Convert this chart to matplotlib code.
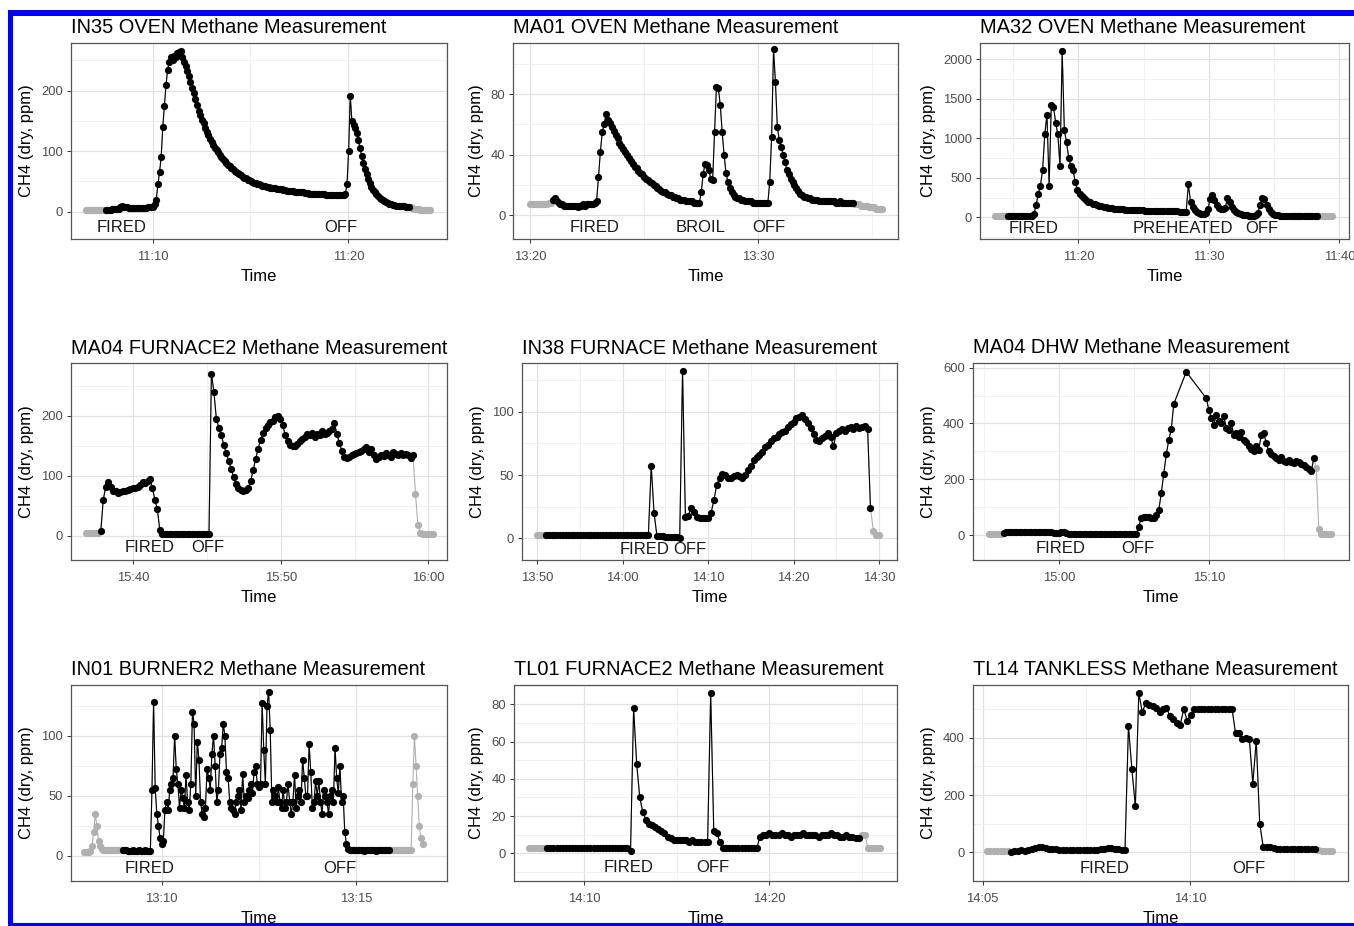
import numpy as np
import matplotlib
matplotlib.use("Agg")
import matplotlib.pyplot as plt
from matplotlib.patches import Rectangle

plt.rcParams['font.family'] = ['Liberation Sans', 'DejaVu Sans']

NAN = float('nan')
Y_LABEL = "CH4 (dry, ppm)"
X_LABEL = "Time"

# ------------------------------------------------------------------
# Data (times are minutes after midnight, sampled every STEP seconds)
# ------------------------------------------------------------------
IN35_TITLE = "IN35 OVEN Methane Measurement"
IN35_START = 666.6
IN35_STEP = 5
IN35_WINDOW = (667.55, 683.15)
IN35_CH4 = [3, 3, 3, 3, 3, 3, 3, 3, 3, 3, 3, 3,
            3, 3, 3, 3, 4, 4, 4, 5, 5, 8, 9, 8,
            7, 7, 6, 6, 6, 6, 6, 6, 6, 6, 6, 6,
            6, 6, 7, 7, 7, 8, 12, 20, 45, 65, 90, 140,
            175, 210, 235, 248, 255, 250, 258, 255, 262, 264, 265, 255,
            248, 240, 232, 224, 215, 205, 196, 186, 176, 167, 159, 152,
            146, 139, 132, 126, 120, 115, 110, 106, 102, 98, 94, 90,
            87, 83, 80, 78, 75, 72, 70, 68, 66, 64, 62, 60,
            58, 56, 55, 53, 52, 50, 49, 48, 47, 46, 45, 44,
            43, 43, 42, 41, 41, 40, 40, 39, 39, 38, 38, 37,
            37, 36, 36, 35, 35, 34, 34, 34, 33, 33, 33, 32,
            32, 32, 31, 31, 31, 30, 30, 30, 30, 29, 29, 29,
            29, 29, 29, 28, 28, 28, 28, 28, 28, 27, 27, 27,
            27, 27, 28, 30, 45, 100, 192, 150, 143, 138, 130, 118,
            105, 92, 80, 70, 62, 54, 47, 41, 36, 32, 29, 26,
            23, 21, 19, 17, 16, 14, 13, 12, 11, 11, 10, 10,
            9, 9, 9, 9, 8, 8, 8, 7, 6, 5, 5, 4,
            4, 3, 3, 3, 3, 3, 3, 3]
IN35_XTICKS = ["11:10", "11:20"]
IN35_YTICKS = [0, 100, 200]
IN35_EVENTS = ["FIRED", "OFF"]
IN35_EVENT_T = [668.42, 679.6]

MA01_TITLE = "MA01 OVEN Methane Measurement"
MA01_START = 800.0
MA01_STEP = 5
MA01_WINDOW = (800.95, 814.2)
MA01_CH4 = [7, 7, 7, 7, 7, 7, 7, 7, 7, 7, 8, 8,
            10, 11, 9, 8, 7, 7, 6, 6, 6, 6, 6, 6,
            6, 5, 6, 6, 7, 6, 7, 7, 7, 7, 8, 9,
            25, 42, 55, 60, 67, 63, 61, 58, 56, 53, 51, 48,
            46, 44, 42, 40, 38, 36, 34, 32, 31, 29, 28, 27,
            25, 24, 23, 22, 21, 20, 19, 18, 17, 16, 15, 15,
            14, 13, 13, 12, 12, 11, 11, 10, 10, 10, 9, 9,
            9, 9, 8, 8, 8, 8, 15, 27, 34, 33, 30, 24,
            23, 55, 85, 84, 73, 55, 40, 28, 22, 18, 15, 13,
            12, 11, 11, 10, 10, 9, 9, 9, 9, 8, 8, 8,
            8, 8, 8, 8, 8, 8, 22, 52, 110, 88, 58, 50,
            45, 40, 35, 30, 27, 24, 22, 20, 18, 16, 14, 13,
            12, 12, 11, 11, 10, 10, 10, 10, 9, 9, 9, 9,
            9, 9, 9, 9, 9, 8, 8, 9, 8, 8, 8, 8,
            8, 8, 8, 7, 7, 7, 6, 6, 6, 6, 5, 5,
            5, 5, 4, 4, 4, 4]
MA01_XTICKS = ["13:20", "13:30"]
MA01_YTICKS = [0, 40, 80]
MA01_EVENTS = ["FIRED", "BROIL", "OFF"]
MA01_EVENT_T = [802.85, 807.48, 810.48]

MA32_TITLE = "MA32 OVEN Methane Measurement"
MA32_START = 673.6
MA32_STEP = 10
MA32_WINDOW = (674.55, 698.3)
MA32_CH4 = [15, 15, 15, 15, 15, 15,
            15, 15, 15, 15, 15, 15, 15, 15, 15, 15, 15, 15,
            40, 150, 300, 400, 600, 1050, 1300, 400, 1420, 1400,
            1200, 1050, 650, 2100, 1100, 950, 750, 650, 600, 450,
            350, 300, 270, 240, 220, 200, 190, 175, 165, 155,
            148, 140, 135, 128, 122, 118, 114, 110, 108,
            105, 103, 100, 98, 96, 94, 92, 91, 90, 89,
            88, 87, 86, 85, 84, 83, 82, 81, 80, 79, 78, 78, 77, 76, 76, 75,
            74, 74, 73, 72, 72, 71,
            420, 200, 130, 90, 70, 55, 45, 40, 50, 100,
            230, 280, 220, 160, 120, 105, 100, 120, 250, 190,
            130, 90, 65, 50, 40, 32, 28, 25, 23, 22,
            22, 25, 60, 160, 250, 230, 160, 110, 70, 45, 32, 24, 20,
            18, 17, 16, 16, 15, 15, 15, 15, 15, 15, 15, 15, 15, 15, 15, 15, 15,
            15, 15, 15, 15, 15, 15, 15]
MA32_XTICKS = ["11:20", "11:30", "11:40"]
MA32_YTICKS = [0, 500, 1000, 1500, 2000]
MA32_EVENTS = ["FIRED", "PREHEATED", "OFF"]
MA32_EVENT_T = [676.55, 687.98, 694.05]

MA04F_TITLE = "MA04 FURNACE2 Methane Measurement"
MA04F_START = 936.8
MA04F_STEP = 10
MA04F_WINDOW = (937.75, 959.0)
MA04F_CH4 = [5, 5, 5, 5, 5, 5,
             8, 60, 82, 90, 82, 75, 74, 72, 73, 74,
             75, 76, 78, 80, 80, 82, 84, 90, 88, 92,
             95, 80, 60, 45, 10, 4,
             3, 3, 3, 3, 3, 3, 3, 3, 3, 3, 3, 3, 3, 3, 3, 3, 3, 3, 3,
             270, 240, 195, 180, 168, 152, 138, 125, 112, 98,
             86, 80, 76, 75, 76, 80, 92, 110, 128, 145,
             160, 172, 180, 185, 190, 192, 198, 200, 195, 185,
             168, 158, 152, 150, 150, 153, 158, 162, 165, 170,
             168, 172, 165, 170, 168, 175, 170, 172, 175, 178,
             188, 170, 155, 142, 132, 130, 132, 135, 136, 138,
             140, 142, 145, 148, 140, 145, 135, 128, 132, 135,
             133, 138, 135, 132, 140, 136, 135, 138, 134, 136, 135, 130, 135,
             70, 18, 5, 4, 4, 4, 4, 4]
MA04F_XTICKS = ["15:40", "15:50", "16:00"]
MA04F_YTICKS = [0, 100, 200]
MA04F_EVENTS = ["FIRED", "OFF"]
MA04F_EVENT_T = [941.13, 945.08]

IN38_TITLE = "IN38 FURNACE Methane Measurement"
IN38_START = 830.0
IN38_STEP = 20
IN38_WINDOW = (830.95, 869.05)
IN38_CH4 = [3, 3, 3,
            3, 3, 3, 3, 3, 3, 3, 3, 3, 3, 3, 3, 3, 3, 3, 3, 3, 3, 3,
            3, 3, 3, 3, 3, 3, 3, 3, 3, 3, 3, 3, 3, 3, 3, 3, 3, 3,
            57, 20, 2, 2, 2, 1, 1, 1, 1, 1,
            0, 132, 17, 18, 24, 21, 17, 16, 16, 16,
            16, 20, 30, 42, 48, 51, 50, 48, 48, 49,
            50, 49, 48, 50, 54, 57, 62, 64, 66, 68,
            72, 74, 77, 79, 80, 82, 84, 85, 88, 90,
            92, 95, 96, 97, 94, 91, 87, 82, 78, 77,
            79, 81, 83, 80, 73, 83, 85, 86, 85, 87,
            88, 86, 89, 87, 88, 89, 86,
            24, 6, 3, 3]
IN38_XTICKS = ["13:50", "14:00", "14:10", "14:20", "14:30"]
IN38_YTICKS = [0, 50, 100]
IN38_EVENTS = ["FIRED", "OFF"]
IN38_EVENT_T = [842.51, 847.82]

MA04D_TITLE = "MA04 DHW Methane Measurement"
MA04D_START = 895.3
MA04D_STEP = 10
MA04D_WINDOW = (896.25, 917.0)
MA04D_CH4 = [5, 5, 5, 5, 5, 5,
             8,
             10, 11, 10, 10, 11, 10, 10, 11, 10, 10, 10, 11, 10, 10, 10, 11, 10, 10, 12,
             8, 7, 8, 10, 9, 6,
             5, 5, 5, 5, 5, 5, 5, 5, 5, 5, 5, 5, 5, 5, 5, 5, 5, 5, 5, 5,
             5, 5, 5, 5, 5, 5, 5, 5,
             30, 62, 63, 65, 64, 62, 62, 70, 90, 150, 220, 290, 340, 380, 470,
             NAN, NAN, NAN, NAN,
             585,
             NAN, NAN, NAN, NAN, NAN, NAN, NAN,
             490, 450, 420, 395, 430, 410, 400, 425, 385, 375,
             400, 360, 365, 350, 370, 340, 335, 320, 310, 300,
             320, 305, 360, 365, 330, 300, 290, 285, 275, 270,
             280, 265, 260, 270, 262, 258, 265, 260, 255, 250, 245, 235, 230, 275,
             240, 20, 5, 5, 5, 5, 5]
MA04D_XTICKS = ["15:00", "15:10"]
MA04D_YTICKS = [0, 200, 400, 600]
MA04D_EVENTS = ["FIRED", "OFF"]
MA04D_EVENT_T = [900.1, 905.23]

IN01_TITLE = "IN01 BURNER2 Methane Measurement"
IN01_START = 788.0
IN01_STEP = 2.5
IN01_WINDOW = (788.98, 795.85)
IN01_CH4 = [3, 3, 3, 3, 4, 8, 20, 35, 25, 12, 8, 6,
            5, 5, 5, 5, 5, 5, 5, 5, 5, 5, 5, 5,
            5, 5, 5, 4, 4, 4, 5, 4, 4, 4, 5, 4,
            4, 4, 5, 4, 4, 4, 55, 128, 56, 35, 25, 15,
            10, 12, 38, 45, 38, 55, 60, 65, 100, 72, 60, 40,
            55, 48, 40, 67, 45, 38, 60, 120, 110, 50, 95, 80,
            45, 35, 32, 40, 72, 65, 55, 85, 100, 75, 45, 55,
            85, 90, 110, 100, 70, 65, 45, 40, 38, 35, 45, 50,
            55, 38, 68, 45, 50, 48, 55, 60, 52, 70, 75, 60,
            57, 60, 127, 88, 60, 125, 136, 105, 45, 55, 50, 45,
            57, 45, 40, 55, 40, 45, 60, 45, 35, 45, 67, 40,
            50, 55, 45, 80, 65, 50, 50, 93, 70, 40, 45, 62,
            50, 62, 45, 35, 55, 50, 45, 35, 50, 55, 45, 90,
            65, 52, 75, 45, 50, 20, 10, 6, 5, 5, 5, 5,
            5, 5, 5, 5, 5, 4, 5, 5, 5, 5, 5, 5,
            4, 5, 5, 5, 5, 5, 5, 5, 5, 5, 5, 5,
            5, 5, 5, 5, 5, 5, 5, 5, 5, 5, 5, 60,
            100, 75, 50, 25, 15, 10]
IN01_XTICKS = ["13:10", "13:15"]
IN01_YTICKS = [0, 50, 100]
IN01_EVENTS = ["FIRED", "OFF"]
IN01_EVENT_T = [789.7, 794.58]

TL01_TITLE = "TL01 FURNACE2 Methane Measurement"
TL01_START = 847.0
TL01_STEP = 10
TL01_WINDOW = (847.95, 864.9)
TL01_CH4 = [3, 3, 3, 3, 3, 3,
            3, 3, 3, 3, 3, 3, 3, 3, 3, 3, 3, 3, 3, 3, 3, 3, 3, 3, 3, 3, 3, 3,
            3, 3, 3, 3, 3,
            1, 78, 48, 30, 22, 18, 16, 15, 14, 13, 12, 11, 9, 8, 7,
            7, 7, 7, 7, 6, 7, 6, 6, 6, 6, 6,
            86, 12, 11, 6, 3,
            3, 3, 3, 3, 3, 3, 3, 3, 3, 3, 3,
            9, 10,
            10, 11, 10, 10, 10, 11, 10, 10, 9, 10, 10, 10, 11, 10, 10, 10,
            10, 9, 10, 10, 10, 11, 10, 10, 9, 9, 10, 9, 9, 8, 8,
            10, 10, 3, 3, 3, 3, 3]
TL01_XTICKS = ["14:10", "14:20"]
TL01_YTICKS = [0, 20, 40, 60, 80]
TL01_EVENTS = ["FIRED", "OFF"]
TL01_EVENT_T = [852.38, 856.93]

TL14_TITLE = "TL14 TANKLESS Methane Measurement"
TL14_START = 845.1
TL14_STEP = 5
TL14_WINDOW = (845.65, 853.05)
TL14_CH4 = [3, 3, 3, 3, 3, 3, 3,
            0, 5, 6, 8, 5, 8, 12, 15, 18, 18, 15, 12, 11, 10,
            8, 8, 8, 8, 8, 8, 8, 8, 8, 8, 8, 8,
            10, 12, 15, 15, 12, 10, 8, 8,
            440, 290, 160, 555, 490, 520, 515, 510, 505, 490,
            500, 505, 475, 465, 450, 445, 500, 460, 480,
            500, 500, 500, 500, 500, 500, 500, 500, 500, 500, 500, 500,
            415, 415, 395, 400, 395, 240, 390, 100, 20, 20, 18, 15,
            12, 12, 12, 12, 12, 12, 12, 12, 12, 12, 12, 12,
            8, 6, 5, 5, 5]
TL14_XTICKS = ["14:05", "14:10"]
TL14_YTICKS = [0, 200, 400]
TL14_EVENTS = ["FIRED", "OFF"]
TL14_EVENT_T = [847.95, 851.43]

# ------------------------------------------------------------------
# Layout (pixel boxes of the panels, axis ranges, label heights)
# ------------------------------------------------------------------
W, H = 1354, 926
PANELS = [
    dict(title=IN35_TITLE, start=IN35_START, step=IN35_STEP, win=IN35_WINDOW, ch4=IN35_CH4,
         xt=IN35_XTICKS, xminor=5, yt=IN35_YTICKS, ev=IN35_EVENTS, evt=IN35_EVENT_T,
         box=(70.7, 42.7, 446.7, 239.3), xlim=(665.81, 685.03), ylim=(-45.6, 279.3), evy=-26),
    dict(title=MA01_TITLE, start=MA01_START, step=MA01_STEP, win=MA01_WINDOW, ch4=MA01_CH4,
         xt=MA01_XTICKS, xminor=5, yt=MA01_YTICKS, ev=MA01_EVENTS, evt=MA01_EVENT_T,
         box=(513.3, 42.7, 898.3, 239.3), xlim=(799.27, 816.13), ylim=(-16.1, 114.2), evy=-8.2),
    dict(title=MA32_TITLE, start=MA32_START, step=MA32_STEP, win=MA32_WINDOW, ch4=MA32_CH4,
         xt=MA32_XTICKS, xminor=5, yt=MA32_YTICKS, ev=MA32_EVENTS, evt=MA32_EVENT_T,
         box=(980.0, 42.7, 1348.7, 239.3), xlim=(672.47, 700.72), ylim=(-278, 2210), evy=-139),
    dict(title=MA04F_TITLE, start=MA04F_START, step=MA04F_STEP, win=MA04F_WINDOW, ch4=MA04F_CH4,
         xt=MA04F_XTICKS, xminor=5, yt=MA04F_YTICKS, ev=MA04F_EVENTS, evt=MA04F_EVENT_T,
         box=(70.7, 363.3, 446.7, 560.0), xlim=(935.76, 961.25), ylim=(-39.9, 287.1), evy=-19.4),
    dict(title=IN38_TITLE, start=IN38_START, step=IN38_STEP, win=IN38_WINDOW, ch4=IN38_CH4,
         xt=IN38_XTICKS, xminor=5, yt=IN38_YTICKS, ev=IN38_EVENTS, evt=IN38_EVENT_T,
         box=(521.7, 363.3, 897.3, 560.0), xlim=(828.17, 872.14), ylim=(-17.1, 138.2), evy=-8.7),
    dict(title=MA04D_TITLE, start=MA04D_START, step=MA04D_STEP, win=MA04D_WINDOW, ch4=MA04D_CH4,
         xt=MA04D_XTICKS, xminor=5, yt=MA04D_YTICKS, ev=MA04D_EVENTS, evt=MA04D_EVENT_T,
         box=(972.7, 362.7, 1348.5, 560.0), xlim=(894.23, 919.28), ylim=(-89.6, 617.8), evy=-47.8),
    dict(title=IN01_TITLE, start=IN01_START, step=IN01_STEP, win=IN01_WINDOW, ch4=IN01_CH4,
         xt=IN01_XTICKS, xminor=2.5, yt=IN01_YTICKS, ev=IN01_EVENTS, evt=IN01_EVENT_T,
         box=(70.7, 685.0, 446.7, 880.7), xlim=(787.66, 797.33), ylim=(-20.8, 142.2), evy=-10.5),
    dict(title=TL01_TITLE, start=TL01_START, step=TL01_STEP, win=TL01_WINDOW, ch4=TL01_CH4,
         xt=TL01_XTICKS, xminor=5, yt=TL01_YTICKS, ev=TL01_EVENTS, evt=TL01_EVENT_T,
         box=(514.0, 685.0, 896.7, 880.7), xlim=(846.2, 866.89), ylim=(-14.7, 90.4), evy=-7.7),
    dict(title=TL14_TITLE, start=TL14_START, step=TL14_STEP, win=TL14_WINDOW, ch4=TL14_CH4,
         xt=TL14_XTICKS, xminor=2.5, yt=TL14_YTICKS, ev=TL14_EVENTS, evt=TL14_EVENT_T,
         box=(972.7, 685.0, 1348.3, 880.7), xlim=(844.76, 853.82), ylim=(-99.1, 584), evy=-55.8),
]

GRAY = "#B0B0B0"
MS = 5.2


def clock(s):
    h, m = s.split(":")
    return int(h) * 60 + int(m)


def minor_ticks(major, step, lim):
    major = np.asarray(major, float)
    cand = np.arange(major[0] - 40 * step, major[-1] + 40 * step + 1e-9, step)
    out = [c for c in cand
           if lim[0] <= c <= lim[1] and np.min(np.abs(major - c)) > 1e-6]
    return out


fig = plt.figure(figsize=(W / 100, H / 100), dpi=100)

for p in PANELS:
    l, t, r, b = p["box"]
    ax = fig.add_axes([l / W, 1 - b / H, (r - l) / W, (b - t) / H])
    v = np.array(p["ch4"], float)
    tt = p["start"] + np.arange(len(v)) * p["step"] / 60.0
    ok = ~np.isnan(v)
    tt, v = tt[ok], v[ok]
    inside = (tt >= p["win"][0]) & (tt <= p["win"][1])

    ax.plot(tt, v, color=GRAY, lw=0.8, zorder=2)
    ax.plot(tt[~inside], v[~inside], ls="none", marker="o", ms=MS,
            color=GRAY, mec="none", zorder=2.5)
    ax.plot(tt[inside], v[inside], color="black", lw=0.8, zorder=3)
    ax.plot(tt[inside], v[inside], ls="none", marker="o", ms=MS,
            color="black", mec="none", zorder=3.5)

    for lab, x in zip(p["ev"], p["evt"]):
        ax.text(x, p["evy"], lab, ha="center", va="center", fontsize=12,
                color="#1a1a1a", zorder=4)

    ax.set_xlim(*p["xlim"])
    ax.set_ylim(*p["ylim"])
    xt = [clock(s) for s in p["xt"]]
    ax.set_xticks(xt)
    ax.set_xticklabels(p["xt"])
    ax.set_xticks(minor_ticks(xt, p["xminor"], p["xlim"]), minor=True)
    yt = p["yt"]
    ax.set_yticks(yt)
    ax.set_yticklabels([str(y) for y in yt])
    ystep = (yt[1] - yt[0]) / 2
    ax.set_yticks(minor_ticks(yt, ystep, p["ylim"]), minor=True)

    ax.grid(which="major", color="#E2E2E2", lw=0.9)
    ax.grid(which="minor", color="#EFEFEF", lw=0.6)
    ax.set_axisbelow(True)
    ax.tick_params(which="major", length=2.75, width=0.7, color="#333333",
                   labelsize=9.4, labelcolor="#4D4D4D", pad=3)
    ax.tick_params(axis="x", which="major", pad=5.8)
    ax.tick_params(which="minor", length=0)
    for s in ax.spines.values():
        s.set_color("#555555")
        s.set_linewidth(0.9)

    ax.set_title(p["title"], loc="left", fontsize=14.4, pad=7, color="black")
    ax.set_xlabel(X_LABEL, fontsize=12, labelpad=4.5)
    ax.set_ylabel(Y_LABEL, fontsize=12, labelpad=5)

# blue frame around the figure
BLUE = "#0000F5"
for (x0, y0, x1, y1) in [(8, 10, 13, 926), (8, 10, W, 16), (8, 922.5, W, 926)]:
    fig.add_artist(Rectangle((x0 / W, 1 - y1 / H), (x1 - x0) / W, (y1 - y0) / H,
                             transform=fig.transFigure, facecolor=BLUE,
                             edgecolor="none", zorder=100))

fig.savefig("out.png", dpi=100)
